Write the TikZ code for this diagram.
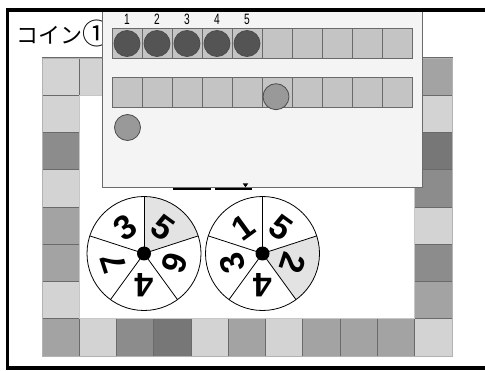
\documentclass[tikz,border=0pt]{standalone}
\usepackage{fontspec}
\setmainfont{Liberation Sans}
\newfontfamily\jpfont{Noto Sans CJK JP}

\definecolor{masuA}{HTML}{D3D3D3}
\definecolor{masuB}{HTML}{A3A3A3}
\definecolor{masuC}{HTML}{8C8C8C}
\definecolor{masuD}{HTML}{777777}
\definecolor{masuline}{HTML}{6A6A6A}
\definecolor{panelbg}{HTML}{F4F4F4}
\definecolor{cellgray}{HTML}{C4C4C4}
\definecolor{sector}{HTML}{E3E3E3}

\newcommand\sz{37.27}
\newcommand\rr{57}
\newcommand{\masu}[3]{\fill[fill=#3,draw=masuline,line width=.8pt] (42+#1*\sz,14+#2*\sz) rectangle ++(\sz,\sz);}
\newcommand{\koma}[3]{\fill[fill=#3,draw=black!70,line width=.8pt] (#1,#2) circle (13);}

\begin{document}
\begin{tikzpicture}[x=1pt,y=1pt,
    num/.style={font=\fontsize{15}{15}\selectfont,xscale=.68,inner sep=0pt},
    digit/.style={font=\fontsize{34}{34}\selectfont\bfseries,inner sep=0pt},
    title/.style={font=\jpfont\fontsize{22}{22}\selectfont,anchor=west,inner sep=0pt}]
  \useasboundingbox (0,0) rectangle (485,370);
  \fill[white] (0,0) rectangle (485,370);

  % board
  \foreach \i/\j/\c in {0/0/masuB,1/0/masuA,2/0/masuC,3/0/masuD,4/0/masuA,5/0/masuB,
      6/0/masuA,7/0/masuB,8/0/masuB,9/0/masuB,10/0/masuA,
      0/1/masuA,0/2/masuB,0/3/masuB,0/4/masuA,0/5/masuC,0/6/masuA,0/7/masuA,
      10/1/masuB,10/2/masuC,10/3/masuA,10/4/masuC,10/5/masuD,10/6/masuA,10/7/masuB,
      1/7/masuA,2/7/masuB,3/7/masuC,4/7/masuA,5/7/masuD,6/7/masuB,7/7/masuA,8/7/masuC,9/7/masuB}{
    \masu{\i}{\j}{\c}}
  \draw[black!30,line width=.8pt] (42,14) rectangle (452,312);
  \draw[black!22,line width=.8pt] (42+\sz,14+\sz) rectangle (452-\sz,312-\sz);

  % spinners
  \foreach \cx/\sh/\lst [count=\k] in {144/90/{54/5,-18/6,-90/4,-162/7,126/3},
                                       262.5/18/{54/5,-18/2,-90/4,-162/3,126/1}}{
    \begin{scope}[shift={(\cx,116.5)}]
      \fill[fill=sector] (0,0) -- (\sh:\rr) arc (\sh:\sh-72:\rr) -- cycle;
      \draw[line width=.8pt] (0,0) circle (\rr);
      \foreach \a in {90,18,-54,-126,162}{
        \draw[line width=.8pt] (0,0) -- (\a:\rr);}
      \foreach \a/\d in \lst{
        \node[digit,rotate=\a-90] (s\k d\d) at (\a:32) {\d};}
      \fill (0,0) circle (7);
    \end{scope}}

  % title
  \node[title] (coin) at (16,337) {コイン\raisebox{-1pt}{\fontsize{29}{29}\selectfont ①}};

  % coin panel
  \fill[fill=panelbg,draw=black!58,line width=1pt] (102,361) rectangle (422,182.3);
  \foreach \i in {0,...,9}{
    \fill[fill=cellgray,draw=masuline,line width=.8pt] (112+30*\i,312) rectangle ++(30,30);
    \fill[fill=cellgray,draw=masuline,line width=.8pt] (112+30*\i,263) rectangle ++(30,30);}
  \foreach \i in {1,...,5}{
    \koma{97+30*\i}{326.5}{black!67}
    \node[num] (n\i) at (97+30*\i,351) {\i};}
  \koma{276}{273.3}{black!40}
  \koma{127.5}{242.5}{black!40}
  \fill (242.7,186.7) -- (248.3,186.7) -- (245.5,182.7) -- cycle;
  \draw[line width=1.5pt] (173,181.2) -- (210.5,181.2);
  \draw[line width=1.5pt] (214.5,181.2) -- (252,181.2);

  % frame
  \draw[line width=3.5pt] (485,360) -- (7.5,360) -- (7.5,1.8) -- (485,1.8);
\end{tikzpicture}
\end{document}
